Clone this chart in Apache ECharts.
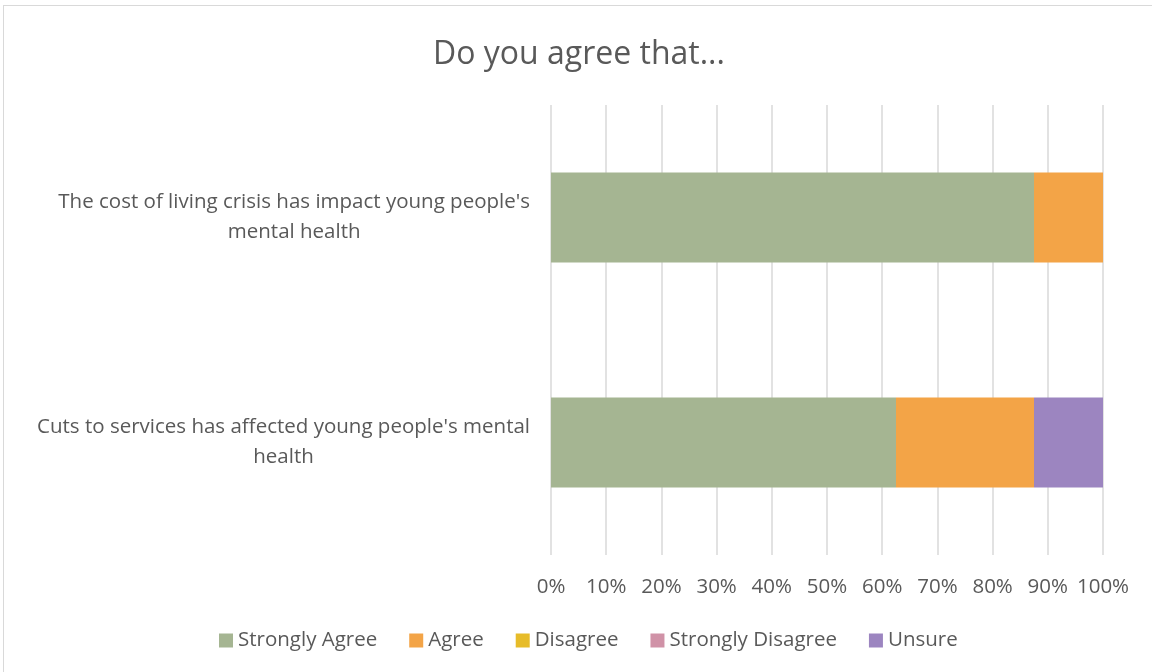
<!DOCTYPE html>
<html><head><meta charset="utf-8">
<script src="https://cdn.jsdelivr.net/npm/echarts@6/dist/echarts.min.js"></script>
<style>html,body{margin:0;padding:0;background:#fff;}#c{width:1152px;height:672px;}#b{position:absolute;left:3px;top:5px;width:1160px;height:700px;border:1px solid #D9D9D9;pointer-events:none;}</style>
</head><body><div id="c"></div><div id="b"></div>
<script>
const categories = ["The cost of living crisis has impact young people's\nmental health", "Cuts to services has affected young people's mental\nhealth"];
const seriesNames = ["Strongly Agree", "Agree", "Disagree", "Strongly Disagree", "Unsure"];
const stronglyAgree = [87.5, 62.5];
const agree = [12.5, 25];
const disagree = [0, 0];
const stronglyDisagree = [0, 0];
const unsure = [0, 12.5];
const colors = ["#A5B592", "#F3A447", "#E7BC29", "#D092A7", "#9C85C0"];
const values = [stronglyAgree, agree, disagree, stronglyDisagree, unsure];
const FONT = "Open Sans";
const FS = 20.5;
const chart = echarts.init(document.getElementById('c'));
chart.setOption({
  animation: false,
  title: { text: "Do you agree that...", left: 428, top: 34, textStyle: { fontFamily: FONT, fontSize: 32, fontWeight: 'normal', color: '#595959' } },
  legend: { bottom: 16, left: 214, itemWidth: 14, itemHeight: 14, itemGap: 32, itemTextGap: 5, icon: 'rect', textStyle: { fontFamily: FONT, fontSize: FS, color: '#595959' }, data: seriesNames },
  grid: { left: 551, right: 49, top: 105, bottom: 117 },
  xAxis: { type: 'value', min: 0, max: 100, interval: 10, axisLine: { show: false }, axisTick: { show: false },
    splitLine: { lineStyle: { color: '#D9D9D9', width: 1.5 } },
    axisLabel: { formatter: v => v + '%', margin: 22, fontFamily: FONT, fontSize: FS, color: '#595959' } },
  yAxis: { type: 'category', inverse: true, data: categories, axisLine: { show: false }, axisTick: { show: false },
    axisLabel: { align: 'right', margin: 21, color: '#595959', fontFamily: FONT, fontSize: FS, lineHeight: 30,
      formatter: v => v.split('\n').map(s => '{c|' + s + '}').join('\n'),
      rich: { c: { align: 'center', fontFamily: FONT, fontSize: FS, color: '#595959', lineHeight: 30 } } } },
  series: seriesNames.map((n, i) => ({ name: n, type: 'bar', stack: 'total', barWidth: 90, itemStyle: { color: colors[i] }, data: values[i] }))
});
</script></body></html>
